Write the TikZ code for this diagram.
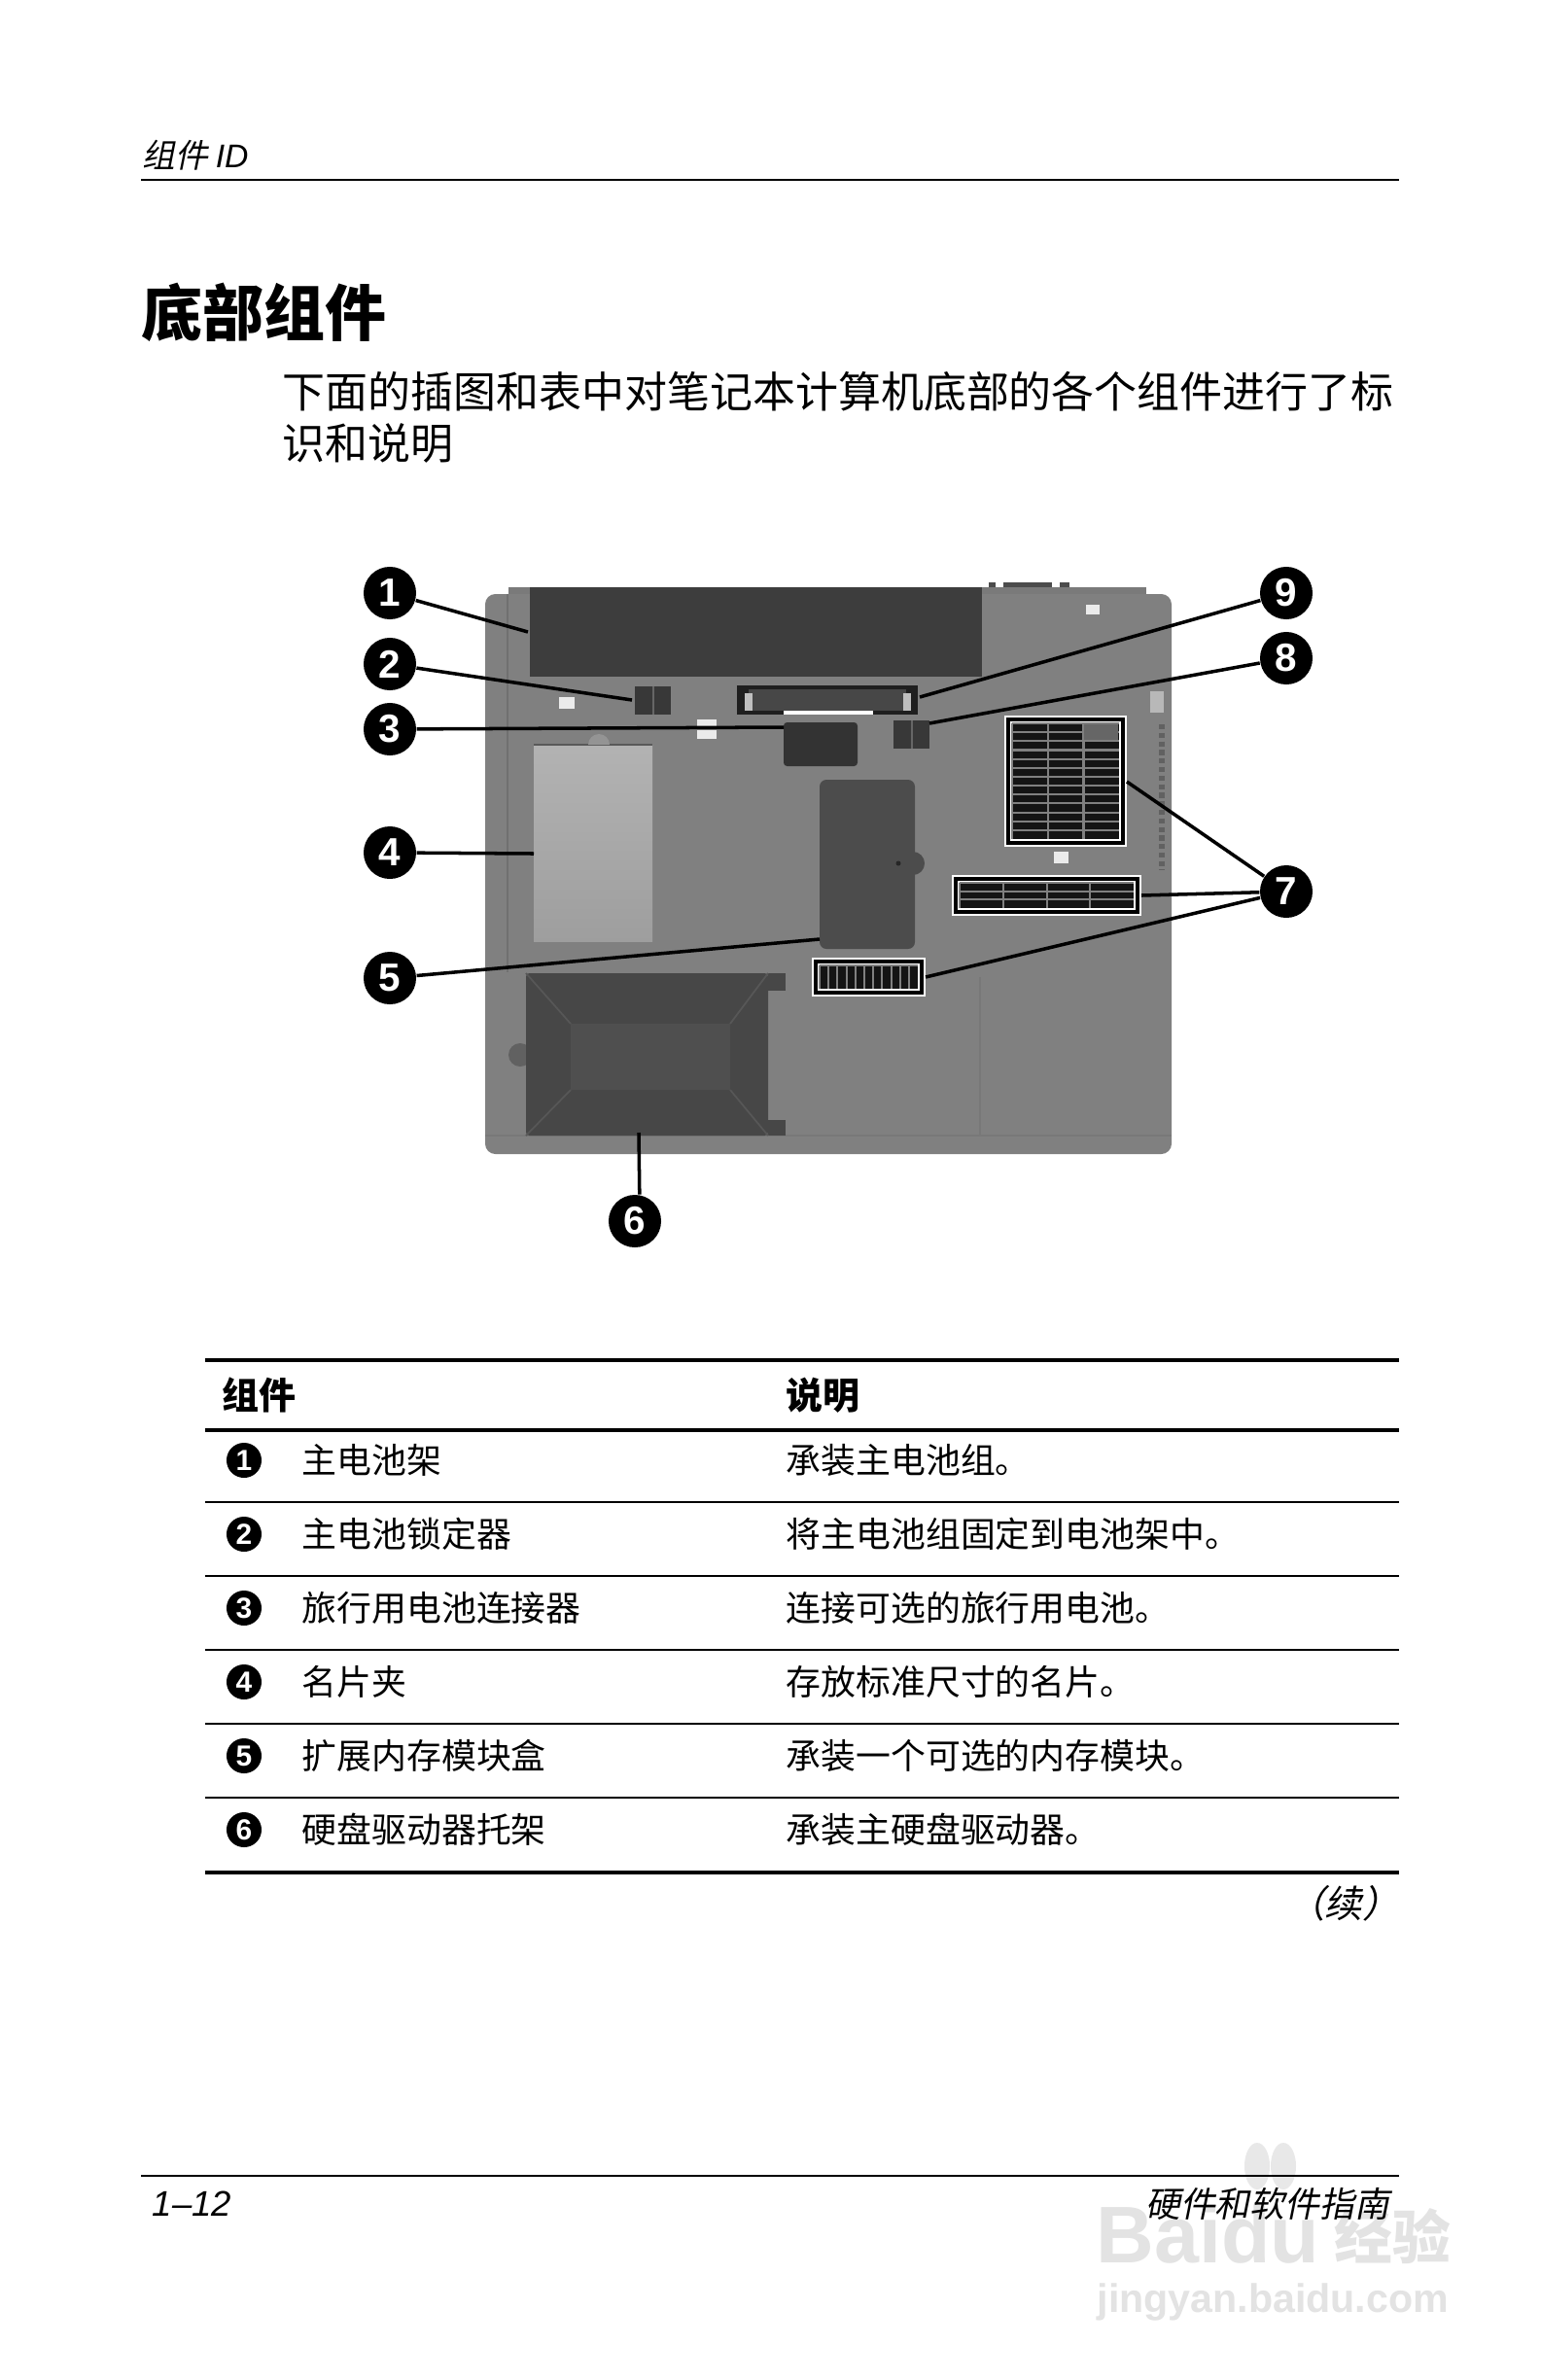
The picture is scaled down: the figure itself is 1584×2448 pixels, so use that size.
\documentclass[tikz,border=0pt]{standalone}
\usepackage{fontspec}
\usetikzlibrary{calc}
\setmainfont{Noto Sans CJK SC}
\newfontfamily\latinfont{Liberation Sans}
\newfontfamily\slantfont[FakeSlant=0.2]{Noto Sans CJK SC}

\tikzset{
  callout/.style={circle, fill=black, text=white, inner sep=0pt, minimum size=0.54cm,
    font=\latinfont\bfseries\fontsize{11.5pt}{12pt}\selectfont},
  tablenum/.style={circle, fill=black, text=white, inner sep=0pt, minimum size=0.36cm,
    font=\latinfont\bfseries\fontsize{8.5pt}{9pt}\selectfont},
  pointer/.style={line width=1pt, black},
  celltext/.style={anchor=west, inner sep=0pt, font=\fontsize{10.2pt}{12pt}\selectfont},
  headtext/.style={anchor=west, inner sep=0pt, font=\bfseries\fontsize{10.8pt}{12pt}\selectfont},
  pagetext/.style={anchor=west, inner sep=0pt, font=\fontsize{12.5pt}{14pt}\selectfont},
  thickrule/.style={line width=1.2pt},
  thinrule/.style={line width=0.45pt},
  wmark/.style={inner sep=0pt, anchor=west, text=black!11},
  darkpart/.style={fill=black!78},
  sticker/.style={fill=black!8},
  slats/.style={black!50, line width=0.6pt}
}

\begin{document}
\begin{tikzpicture}[x=0.01cm, y=-0.01cm]
  \useasboundingbox (0,0) rectangle (1584,2448);
  \fill[white] (0,0) rectangle (1584,2448);

  \newcommand{\partrow}[6]{
    \node[tablenum] (num#1) at (251,#2) {#1};
    \node[celltext] (part#1) at (310,#2) {#3};
    \node[celltext] (desc#1) at (808,#2) {#4};
    \draw[#5] (211,#6) -- (1439,#6);
  };

  \newcommand{\ventbox}[4]{
    \fill[white] ($(#1,#2)+(-4,-4)$) rectangle ($(#3,#4)+(4,4)$);
    \draw[line width=0.9pt, black] (#1,#2) rectangle (#3,#4);
  };

  % page head
  \node[inner sep=0pt, anchor=west, font=\slantfont\fontsize{9.6pt}{12pt}\selectfont] (headleft) at (146,160) {组件 {\latinfont\itshape ID}};
  \draw[line width=0.5pt] (145,185) -- (1439,185);
  \node[inner sep=0pt, anchor=west, font=\bfseries\fontsize{17.9pt}{20pt}\selectfont] (title) at (145,321) {底部组件};
  \node[pagetext] (intro1) at (290,403) {下面的插图和表中对笔记本计算机底部的各个组件进行了标};
  \node[pagetext] (intro2) at (290,456) {识和说明};

  % notebook body
  \fill[black!52] (523,604) rectangle (1179,625);
  \fill[black!70] (1017,599) rectangle (1024,604);
  \fill[black!70] (1032,599) rectangle (1082,604);
  \fill[black!70] (1090,599) rectangle (1100,604);
  \fill[black!50, rounded corners=3pt] (499,611) rectangle (1205,1187);
  \draw[black!56, line width=0.4pt] (522,611) -- (522,1000);
  \draw[black!53, line width=0.4pt] (1008,1005) -- (1008,1168);
  \draw[black!53, line width=0.4pt] (499,1168) -- (1205,1168);
  \draw[black!62, line width=1.5pt, dash pattern=on 1.5pt off 1pt] (1195,745) -- (1195,895);

  % battery bay
  \fill[black!76] (545,604) rectangle (1010,696);

  % business card slot
  \shade[top color=black!30, bottom color=black!38] (549,766) rectangle (671,968);
  \draw[black!65, line width=0.4pt] (549,766) -- (671,766);
  \fill[black!42] (605,766) arc (180:360:11);

  % memory door
  \fill[black!70, rounded corners=2pt] (843,802) rectangle (941,976);
  \fill[black!70] (939,888) circle (12);
  \fill[black!85] (924,888) circle (2.5);

  % hard drive door
  \fill[black!62] (535,1085) circle (12);
  \fill[black!72, rounded corners=1pt] (541,1001) rectangle (790,1168);
  \fill[black!72] (790,1001) rectangle (808,1019);
  \fill[black!72] (790,1152) rectangle (808,1168);
  \fill[black!69] (587,1053) rectangle (751,1121);
  \draw[black!66, line width=0.5pt] (541,1001) -- (587,1053) (790,1001) -- (751,1053) (541,1168) -- (587,1121) (790,1168) -- (751,1121);

  % latches and connectors
  \fill[darkpart] (653,706) rectangle (690,735);
  \draw[black!60, line width=0.3pt] (672,706) -- (672,735);
  \fill[black!88] (758,705) rectangle (944,735);
  \fill[black!72] (770,709) rectangle (932,731);
  \fill[black!25] (766,713) rectangle (774,731);
  \fill[black!25] (929,713) rectangle (937,731);
  \fill[white] (806,731) rectangle (898,735);
  \fill[black!80, rounded corners=1pt] (806,743) rectangle (882,788);
  \fill[darkpart] (919,741) rectangle (956,770);
  \draw[black!60, line width=0.3pt] (938,741) -- (938,770);

  % stickers
  \fill[sticker] (575,717) rectangle (591,729);
  \fill[sticker] (717,740) rectangle (737,749);
  \fill[sticker] (717,751) rectangle (737,760);
  \fill[sticker] (1084,876) rectangle (1099,888);
  \fill[sticker] (1117,622) rectangle (1131,632);
  \fill[black!28] (1183,711) rectangle (1197,733);

  % vents
  \ventbox{1037}{740}{1155}{867}
  \fill[black!92] (1041,744) rectangle (1151,863);
  \begin{scope}[shift={(1041,744)}]
    \draw[slats, xstep=0.367cm, ystep=0.0915cm] (0,0) grid (110,119);
  \end{scope}
  \fill[black!60] (1115,745) rectangle (1150,761);

  \ventbox{983}{904}{1170}{938}
  \fill[black!92] (987,908) rectangle (1166,934);
  \begin{scope}[shift={(987,908)}]
    \draw[slats, xstep=0.4475cm, ystep=0.0867cm] (0,0) grid (179,26);
  \end{scope}

  \ventbox{839}{989}{948}{1021}
  \fill[black!92] (843,993) rectangle (944,1017);
  \begin{scope}[shift={(843,993)}]
    \draw[slats, xstep=0.092cm, ystep=0.3cm] (0,0) grid (101,24);
  \end{scope}

  % callouts
  \node[callout] (call1) at (401,610) {1};
  \node[callout] (call2) at (401,683) {2};
  \node[callout] (call3) at (401,750) {3};
  \node[callout] (call4) at (401,877) {4};
  \node[callout] (call5) at (401,1006) {5};
  \node[callout] (call6) at (653,1256) {6};
  \node[callout] (call7) at (1323,917) {7};
  \node[callout] (call8) at (1323,677) {8};
  \node[callout] (call9) at (1323,610) {9};

  \coordinate (end1) at (543,650);
  \coordinate (end2) at (650,720);
  \coordinate (end3) at (806,748);
  \coordinate (end4) at (549,878);
  \coordinate (end5) at (843,966);
  \coordinate (end6) at (657,1165);
  \coordinate (end7a) at (1159,804);
  \coordinate (end7b) at (1174,921);
  \coordinate (end7c) at (952,1005);
  \coordinate (end8) at (956,744);
  \coordinate (end9) at (946,717);

  \draw[pointer] (call1) -- (end1);
  \draw[pointer] (call2) -- (end2);
  \draw[pointer] (call3) -- (end3);
  \draw[pointer] (call4) -- (end4);
  \draw[pointer] (call5) -- (end5);
  \draw[pointer] (call6.80) -- (end6);
  \draw[pointer] (call7) -- (end7a);
  \draw[pointer] (call7) -- (end7b);
  \draw[pointer] (call7) -- (end7c);
  \draw[pointer] (call8) -- (end8);
  \draw[pointer] (call9) -- (end9);

  % table
  \draw[thickrule] (211,1399) -- (1439,1399);
  \node[headtext] (headpart) at (228,1435) {组件};
  \node[headtext] (headdesc) at (808,1435) {说明};
  \draw[thickrule] (211,1471) -- (1439,1471);

  \partrow{1}{1502}{主电池架}{承装主电池组。}{thinrule}{1545}
  \partrow{2}{1578}{主电池锁定器}{将主电池组固定到电池架中。}{thinrule}{1621}
  \partrow{3}{1654}{旅行用电池连接器}{连接可选的旅行用电池。}{thinrule}{1697}
  \partrow{4}{1730}{名片夹}{存放标准尺寸的名片。}{thinrule}{1773}
  \partrow{5}{1806}{扩展内存模块盒}{承装一个可选的内存模块。}{thinrule}{1849}
  \partrow{6}{1882}{硬盘驱动器托架}{承装主硬盘驱动器。}{thickrule}{1926}

  \node[inner sep=0pt, anchor=east, font=\slantfont\fontsize{11pt}{12pt}\selectfont] (cont) at (1441,1958) {（续）};

  % watermark
  \fill[black!9] (1293,2228) ellipse (13 and 24);
  \fill[black!9] (1320,2228) ellipse (13 and 24);
  \node[wmark, font=\latinfont\bfseries\fontsize{23.5pt}{24pt}\selectfont] (wmarkbaidu) at (1127,2298) {Baidu};
  \node[wmark, font=\bfseries\fontsize{17pt}{18pt}\selectfont] (wmarkjy) at (1372,2300) {经验};
  \node[wmark, font=\latinfont\bfseries\fontsize{11.7pt}{13pt}\selectfont] (wmarkurl) at (1128,2368) {jingyan.baidu.com};

  % page foot
  \draw[line width=0.55pt] (145,2238) -- (1439,2238);
  \node[inner sep=0pt, anchor=west, font=\latinfont\itshape\fontsize{10.4pt}{12pt}\selectfont] (pagenum) at (156,2267) {1–12};
  \node[inner sep=0pt, anchor=east, font=\slantfont\fontsize{10.2pt}{12pt}\selectfont] (foottitle) at (1430,2267) {硬件和软件指南};
\end{tikzpicture}
\end{document}
